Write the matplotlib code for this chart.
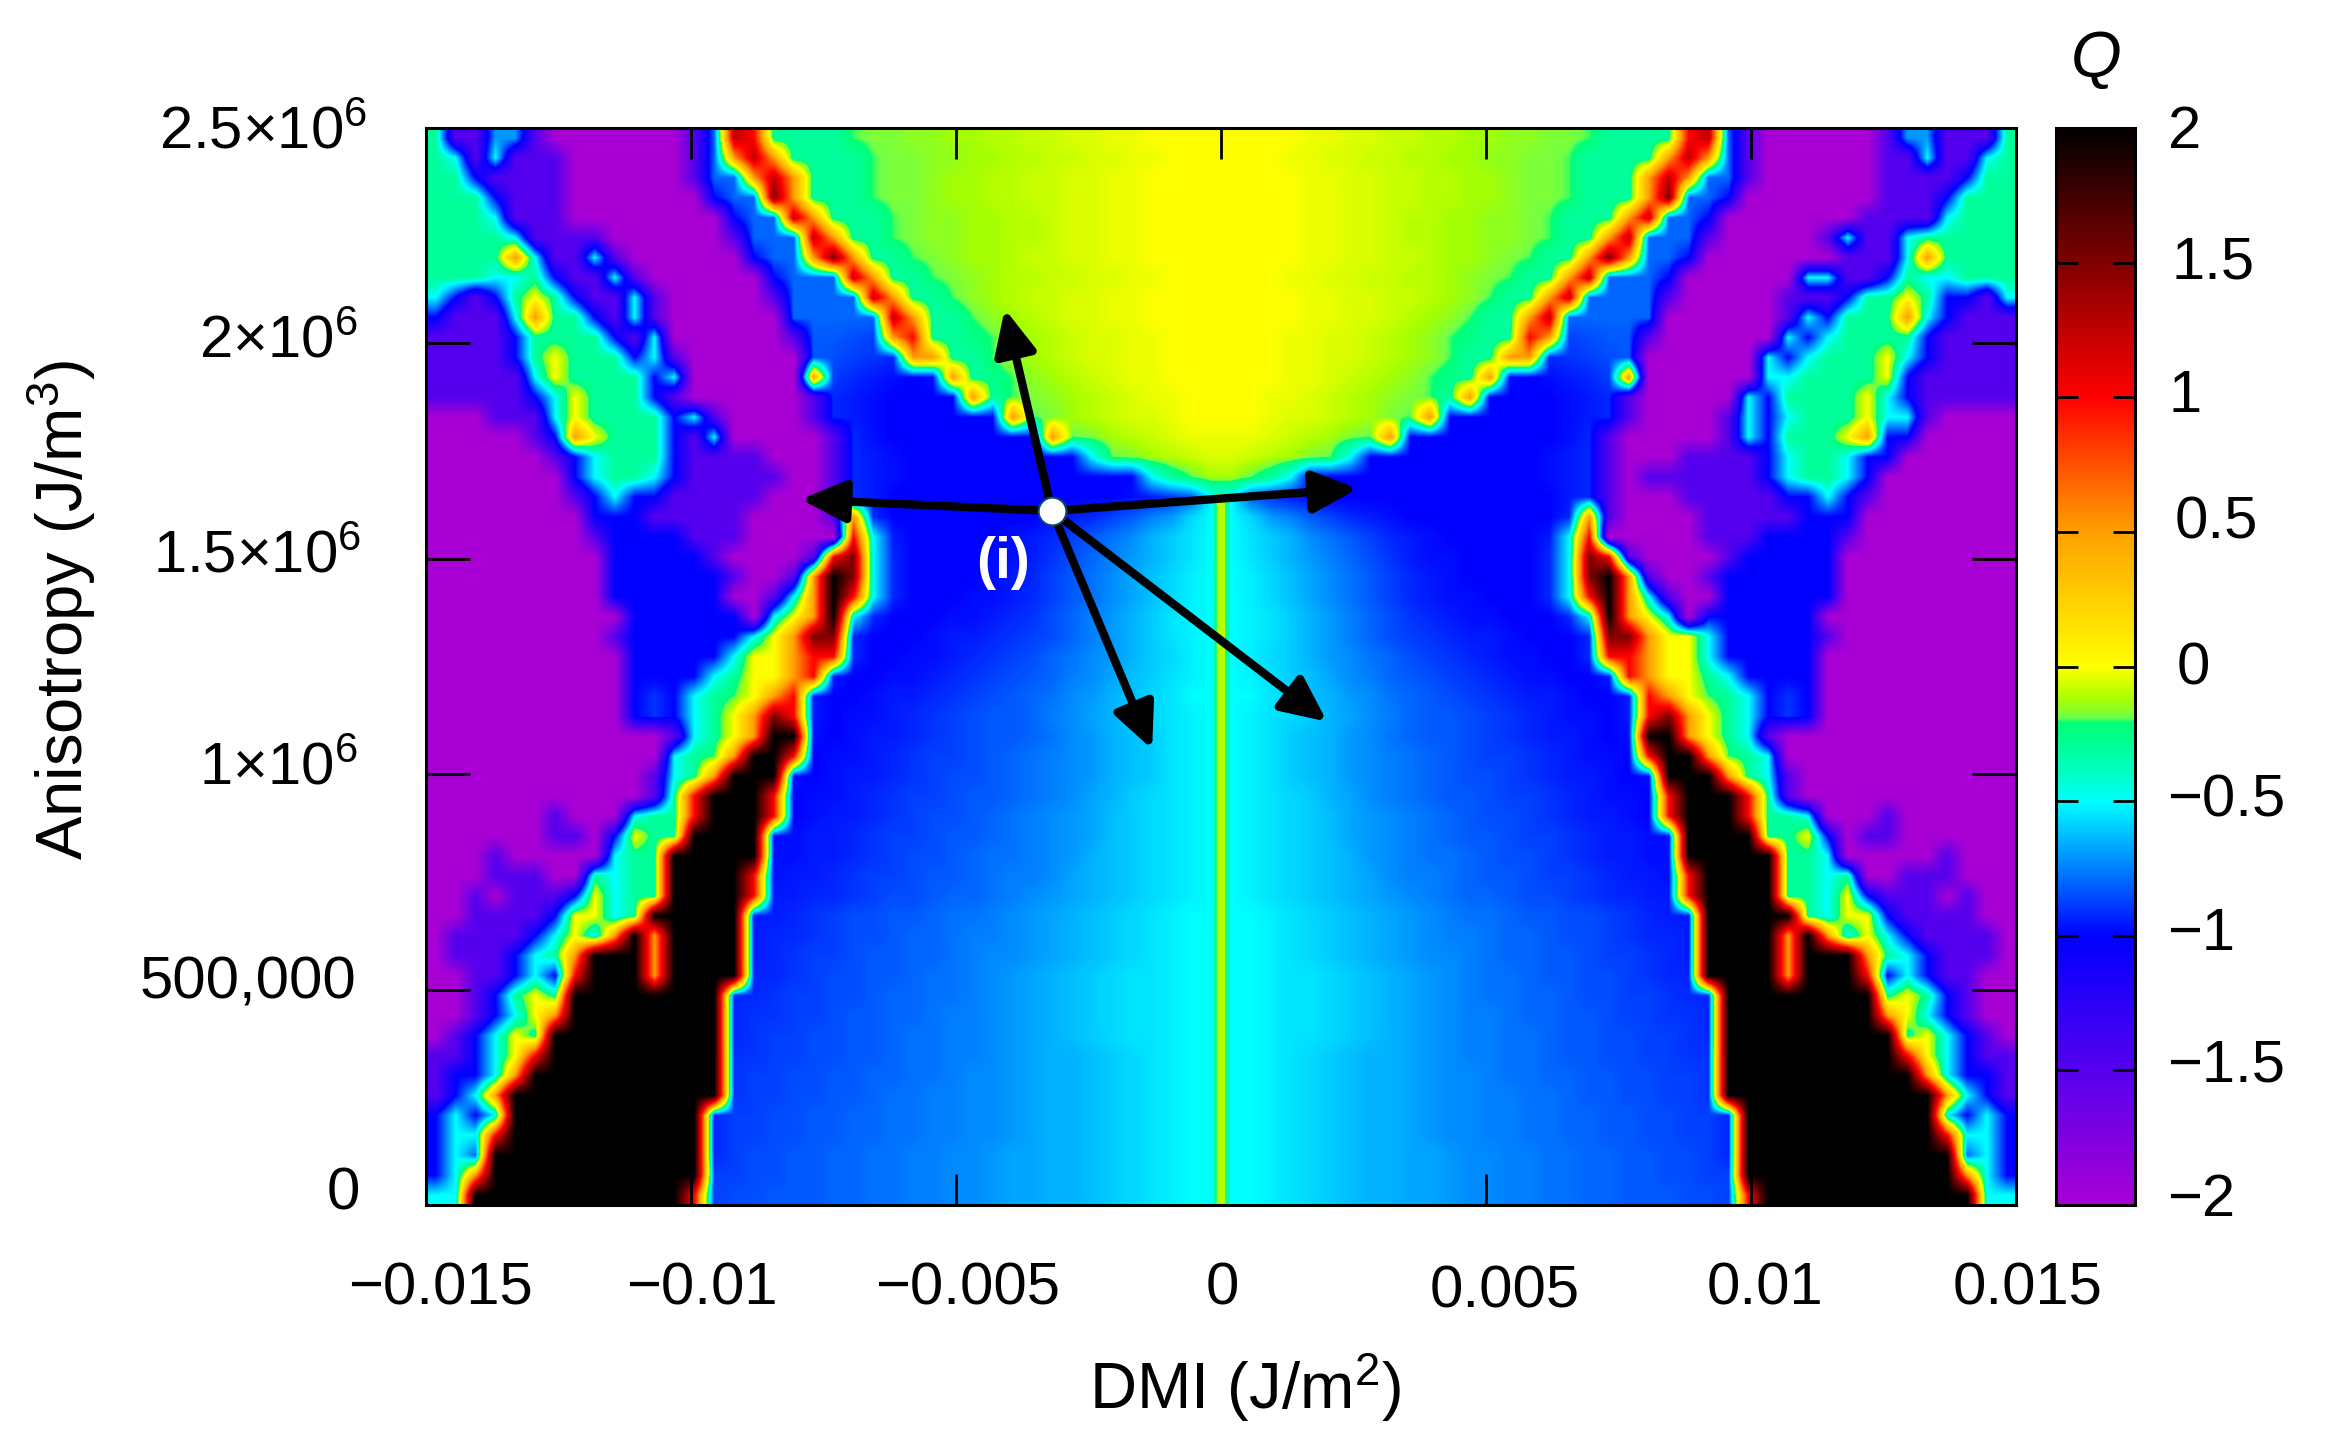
import numpy as np
import matplotlib
matplotlib.use("Agg")
import matplotlib.pyplot as plt
from matplotlib.colors import LinearSegmentedColormap, Normalize

# Q, left half of the map (D < 0), top row = highest anisotropy.
# One character per cell, see LEVEL_CODES / LEVEL_VALUES.
LEVEL_CODES = list("PVB123n456a789mACDsEFGcgHhIlJwLxMyoRrdK")
LEVEL_VALUES = [-2, -1.5, -1, -0.975, -0.95, -0.925, -0.9, -0.875, -0.85, -0.825, -0.8,
                -0.775, -0.75, -0.725, -0.7, -0.675, -0.65, -0.625, -0.6, -0.575, -0.55,
                -0.525, -0.5, -0.3, -0.25, -0.2, -0.175, -0.15, -0.125, -0.1, -0.075,
                -0.05, -0.025, 0, 0.5, 1.25, 1, 1.5, 2]

Q_LEFT = [
    "gVVmmVPPPP PPPVaRrggg ghIIllJJww LLxxMMyyyy",
    "gcVcVVVPPP PPPVaoRogg gghIIllJJw wLLxxMMyyy",
    "ggBVVVVPPP PPPVaaoRog gghIIlJJww LLxxMMyyyy",
    "gggBVVVPPP PPPPBaadog gghIIlJJww LLxxMMyyyy",
    "gggcVVVPPP PPPPPBaaRo ggghIllJJw wLxxMMyyyy",
    "ggggcVVVVP PPPPPVaaaR ogghIllJJw wLxxMMyyyy",
    "ggggocVVcV PPPPPPBaao dogghIlJJw LLxxMMyyyy",
    "gggccgBVVc VPPPPPPBaa aRogghIlJw wLLxxMMyyy",
    "cBVBgygBVV cVPPPPPVaa aaRogghlJw LLxxMMyyyy",
    "BVVVcoggBV cVPPPPPPaa aaaRogghlJ wLxxMMyyyy",
    "VVVVBggggB VcPPPPPPV6 654orggHhl JwLxxMMyyy",
    "VVVVBgyggg BcVPPPPPP6 54n3oogghl JwLxxMMyyy",
    "VVVVVcyggg gBcPPPPPPo 4321B1ogHh lJwLxMMyyy",
    "VVVVVBcygg gBVPPPPPPV 321BBBBogh IlJwLxMMyy",
    "PPPVVVcygg ggBcVPPPPV 321BBBBBBo hIJwLxxMyy",
    "PPPPPVBoyg ggBVcPPPPP V31BBBBBBB BohIJwLxMM",
    "PPPPPPVBcg ggBVVVVPPP V321BBBBBB BBBchIJwLx",
    "PPPPPPPBcg gcBVVVVVPP V321BBBBBB BBBBBBcghJ",
    "PPPPPPPVBc BBVVVVVPPP V32BBBBBBB BBBBB12n6c",
    "PPPPPPPPBB BVVVVVPPPP Vo3BBBBBBB B123468mEc",
    "PPPPPPPPVB BBBVVVPPPP Prc2BBBBB1 234679CsFc",
    "PPPPPPPPPB BBBBVPPPPV rdc3BBBB11 2n5a8mCsFc",
    "PPPPPPPPPB BBBBBVPPVo Kdc3BBBB12 34679ADEGc",
    "PPPPPPPPPB BBBBBPPVco Krc3BBB112 34679ADEGc",
    "PPPPPPPPPP BBBBBBPcyo Kc3BBB1123 n5a8mCsFGc",
    "PPPPPPPPPV BBBBBBcyod d3BBB1223n 45a8mCsFGc",
    "PPPPPPPPPP BBBBBcyyor r3BB1123n4 5a79mCsEGc",
    "PPPPPPPPPP BBBBcgyyor 2BB1123n45 6a89ADsFGc",
    "PPPPPPPPPP BnBcghyor2 BB1223n456 a79mCDEFcc",
    "PPPPPPPPPP BnBcgyodr2 B1123n4566 a89ACsEFGc",
    "PPPPPPPPPP PPVcgyoKK1 B1223n4566 a79mCDsFGc",
    "PPPPPPPPPP PPcghoKKrB 1123n4456a 789mCDsFGc",
    "PPPPPPPPPP PVcgoKKK1B 1223n4556a 789mCDsFGc",
    "PPPPPPPPPP PVgrKKKrB1 123n44566a 789ACsEFGc",
    "PPPPPPVPPP cggrKKKrB1 223n4556a7 89mADsEFGc",
    "PPPPPPVVPB yggKKKK112 23n44566a7 89mADsEFGc",
    "PPPVPPPPPc ggKKKKK112 23n4556a77 89mCDsEFGc",
    "PPPVVVPPgc ggKKKKr122 3n44566a78 89ACDsEFGc",
    "PPVPVVVByc ggKKKKr223 3n4556aa78 9mACDsEFGc",
    "PPVVVVByyc gKKKKK223n 45566a7789 mACDsEFGcc",
    "PVVVVBcyco KoKKKK233n 4556aa7889 mACDsEFGcc",
    "PVVVBcgoKK KoKKKK23n4 4566aa7899 mACDsEFGcc",
    "PPVVBcBrKK KoKKKK33n4 5566a7789m ACDsEFFGcc",
    "PPVBgygKKK KKKKK33n44 556aa7789m ACDsEFFGcc",
    "PPVBcyoKKK KKKKK3nn44 566aa7889m ACDsEFFGcc",
    "PVBcygKKKK KKKKK3n445 566a77889m ACDsEFFGcc",
    "VVBcyrKKKK KKKKKnn445 566a77889m ACCDsEFGcc",
    "VBBcoKKKKK KKKKKn4455 66aa77899m ACCDsEFGcc",
    "VBcoKKKKKK KKKKKn4455 66a778899m ACCDsEFGcc",
    "BcBcKKKKKK KKKK344556 6aa778899m ACCDsEFGcc",
    "BccrKKKKKK KKKK344556 6aa778899m ACCDsEFGcc",
    "BcaKKKKKKK KKKK345566 aa778899mA ACCDsEFGcc",
    "BcoKKKKKKK KKKK445566 aa778899mA ACCDsEFGcc",
    "ccKKKKKKKK KKKr455666 aa778899mA ACCDsEFGcc",
]

# the right half is almost the mirror image; rows that differ, read from the outer edge inwards
RIGHT_OUTER = {
    0: "gVVVmmVPPP PPPVaRrggg",
    1: "gcVVcVVPPP PPPVaoRogg",
    4: "gggcVVVVPP PPPPPBaaRo",
    5: "gggggcVVcV PPPPPVaaaR",
    6: "ggggocVVVP PPPPPPBaao",
    7: "gggccgBVVc cPPPPPPBaa",
    8: "cVBBgyggBV VVPPPPPVaa",
    9: "VVVBcogggB cVPPPPPPaa",
    10: "VVVVBggggc BcPPPPPPV6",
    11: "VVVVBcyggg cBcPPPPPP6",
    12: "VVVVVByggg gccPPPPPPo",
    13: "VVVVVBcygg ggBcPPPPPV",
    14: "PPPPVccygg gcBcVPPPPV",
    15: "PPPPPBBoyg ggBcVPPPPP",
    16: "PPPPPPBBcg gcBVVVVPPP",
    17: "PPPPPPPBcg gcBVVVVVVP",
    25: "PPPPPPPPPV BBBBBcyyod",
}

CENTER_Q = -0.1  # thin line at D = 0
CENTER_TOP = 1.65e6

X_TICKS = [-0.015, -0.01, -0.005, 0, 0.005, 0.01, 0.015]
X_LABELS = ["\u22120.015", "\u22120.01", "\u22120.005", "0", "0.005", "0.01", "0.015"]
Y_TICKS = [0, 5e5, 1e6, 1.5e6, 2e6, 2.5e6]
Y_LABELS = ["0", "500,000", "1\u00d710$^{6}$", "1.5\u00d710$^{6}$", "2\u00d710$^{6}$", "2.5\u00d710$^{6}$"]
CB_TICKS = [2, 1.5, 1, 0.5, 0, -0.5, -1, -1.5, -2]
CB_LABELS = ["2", "1.5", "1", "0.5", "0", "\u22120.5", "\u22121", "\u22121.5", "\u22122"]

MARKER = (-0.00319, 1.611e6)
ARROW_ENDS = [(-0.00408, 2.08e6), (-0.00793, 1.638e6), (0.00258, 1.663e6),
              (-0.0013, 1.058e6), (0.002, 1.122e6)]

CMAP_STOPS = [(-2, "#a800d4"), (-1.5, "#5500ee"), (-1, "#0000ff"), (-0.75, "#0080ff"),
              (-0.5, "#00ffff"), (-0.4, "#00ffc4"), (-0.21, "#00ff78"), (-0.19, "#70ff48"),
              (-0.12, "#a8ff00"), (0, "#ffff00"), (0.5, "#ffa000"), (1, "#ff0000"),
              (1.5, "#800000"), (2, "#000000")]

W, H = 2330, 1447
plt.rcParams["font.family"] = ["Liberation Sans", "DejaVu Sans"]
plt.rcParams["mathtext.fontset"] = "custom"
plt.rcParams["mathtext.rm"] = "Liberation Sans"
plt.rcParams["mathtext.it"] = "Liberation Sans:italic"
plt.rcParams["mathtext.default"] = "regular"


def box(left, top, right, bottom):
    return [left / W, 1 - bottom / H, (right - left) / W, (bottom - top) / H]


def put(fig, x, y, s, **kw):
    # x, y are pixel positions of the text centre
    fig.text(x / W, 1 - y / H, s, ha="center", va="center", **kw)


codes = dict(zip(LEVEL_CODES, LEVEL_VALUES))


def decode(row):
    return [codes[ch] for ch in row.replace(" ", "")]


left = np.array([decode(row) for row in Q_LEFT], dtype=float)
right = left[:, ::-1].copy()
for r, row in RIGHT_OUTER.items():
    right[r, 39 - np.arange(20)] = decode(row)
q = np.hstack([left, right])

cmap = LinearSegmentedColormap.from_list(
    "q", [((v + 2) / 4, c) for v, c in CMAP_STOPS], N=1024)
norm = Normalize(-2, 2)

fig = plt.figure(figsize=(W / 100, H / 100), dpi=100)
ax = fig.add_axes(box(426, 128, 2016, 1205))
im = ax.imshow(q, cmap=cmap, norm=norm, aspect="auto", interpolation="bilinear",
               interpolation_stage="data", extent=[-0.015, 0.015, 0, 2.5e6])

ax.plot([0, 0], [0, CENTER_TOP], color=cmap(norm(-0.3)), lw=11, solid_capstyle="butt", zorder=2)
ax.plot([0, 0], [0, CENTER_TOP], color=cmap(norm(CENTER_Q)), lw=6, solid_capstyle="butt", zorder=2)

ax.set_xlim(-0.015, 0.015)
ax.set_ylim(0, 2.5e6)
ax.set_xticks(X_TICKS)
ax.set_yticks(Y_TICKS)
ax.set_xticklabels([])
ax.set_yticklabels([])
ax.tick_params(axis="x", direction="in", top=True, bottom=True, length=22, width=2)
ax.tick_params(axis="y", direction="in", left=True, right=True, length=32, width=2)
for sp in ax.spines.values():
    sp.set_linewidth(2.2)
    sp.set_zorder(5)

for end in ARROW_ENDS:
    ax.annotate("", xy=end, xytext=MARKER,
                arrowprops=dict(arrowstyle="-|>,head_length=0.9,head_width=0.42", lw=6,
                                color="black", shrinkA=0, shrinkB=0, mutation_scale=30),
                zorder=6)
ax.plot(*MARKER, "o", ms=20, mfc="white", mec="#0b4a66", mew=1.5, zorder=7)
put(fig, 1003, 563, "(i)", color="white", fontsize=41, fontweight="bold")

cax = fig.add_axes(box(2056, 128, 2135, 1205))
cb = fig.colorbar(im, cax=cax)
cb.set_ticks(CB_TICKS)
cb.set_ticklabels([])
cax.tick_params(axis="y", direction="in", left=True, right=True, length=16, width=2, color="black")
cb.outline.set_linewidth(2.2)

# labels sit where they were placed by hand in the figure, not on a tick offset
x_lab_px = [(440, 1289), (702, 1289), (968, 1289), (1222, 1289), (1505, 1292), (1765, 1289), (2028, 1289)]
for (px, py), s in zip(x_lab_px, X_LABELS):
    put(fig, px, py, s, fontsize=43)
y_lab_px = [(343, 1194), (248, 983), (278, 769), (257, 557), (278, 342), (263, 133)]
for (px, py), s in zip(y_lab_px, Y_LABELS):
    put(fig, px, py, s, fontsize=43)
cb_lab_px = [(2185, 132), (2213, 263), (2185, 396), (2216, 523), (2193, 669),
             (2226, 801), (2201, 935), (2226, 1066), (2201, 1200)]
for (px, py), s in zip(cb_lab_px, CB_LABELS):
    put(fig, px, py, s, fontsize=43)

put(fig, 1245, 1388, "DMI (J/m$^{2}$)", fontsize=47)
put(fig, 62, 610, "Anisotropy (J/m$^{3}$)", fontsize=47, rotation=90)
put(fig, 2096, 60, "Q", fontsize=47, style="italic")

fig.savefig("out.png", dpi=100)
